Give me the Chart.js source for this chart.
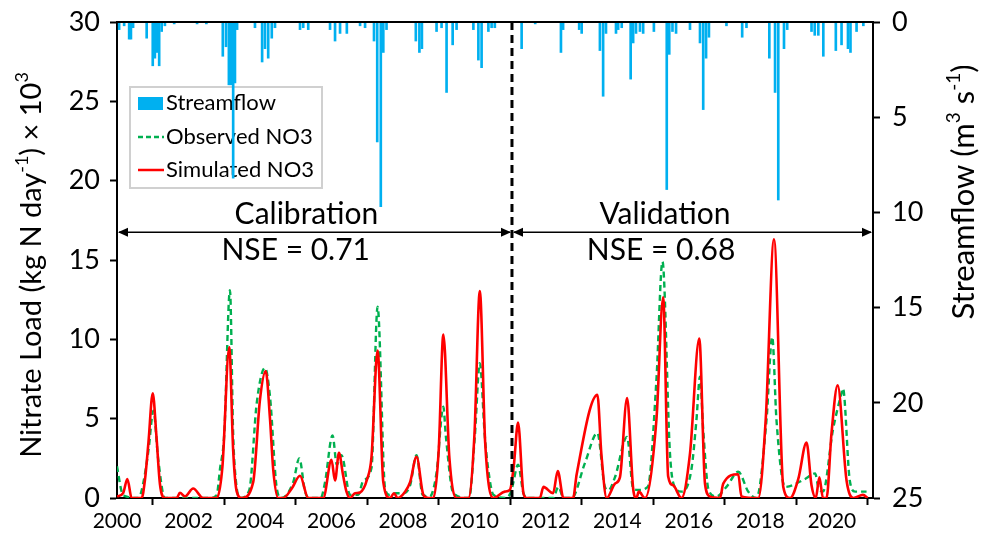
<!DOCTYPE html>
<html>
<head>
<meta charset="utf-8">
<script src="https://cdn.jsdelivr.net/npm/chart.js@4.4.0/dist/chart.umd.min.js"></script>
<style>
  html, body { margin: 0; padding: 0; background: #fff; }
  #wrap { width: 986px; height: 549px; }
</style>
</head>
<body>
<div id="wrap"><canvas id="chart" width="986" height="549"></canvas></div>
<script>
// Simulated NO3 load (kg N/day x 10^3)
const simYears = [2000.0, 2000.17, 2000.29, 2000.41, 2000.69, 2000.78, 2000.88, 2001.0, 2001.1, 2001.2,
  2001.34, 2001.67, 2001.76, 2001.9, 2002.13, 2002.41, 2002.79, 2002.95, 2003.14, 2003.25,
  2003.35, 2003.49, 2003.81, 2004.0, 2004.16, 2004.28, 2004.37, 2004.51, 2004.65, 2004.89,
  2005.12, 2005.35, 2005.77, 2006.0, 2006.1, 2006.21, 2006.32, 2006.42, 2006.52, 2006.66,
  2006.8, 2007.0, 2007.12, 2007.29, 2007.45, 2007.64, 2007.75, 2007.85, 2008.06, 2008.2,
  2008.38, 2008.57, 2008.71, 2008.85, 2009.0, 2009.13, 2009.3, 2009.5, 2009.83, 2010.0,
  2010.15, 2010.3, 2010.53, 2010.85, 2010.99, 2011.1, 2011.22, 2011.37, 2011.46, 2011.83,
  2011.93, 2012.2, 2012.33, 2012.49, 2012.76, 2012.86, 2013.44, 2013.55, 2013.7, 2013.93,
  2014.07, 2014.27, 2014.44, 2014.53, 2014.6, 2014.77, 2015.09, 2015.28, 2015.42, 2015.56,
  2015.79, 2016.03, 2016.29, 2016.45, 2016.59, 2016.87, 2016.96, 2017.38, 2017.47, 2017.94,
  2018.15, 2018.38, 2018.64, 2018.83, 2019.06, 2019.29, 2019.43, 2019.55, 2019.65, 2019.75,
  2019.85, 2019.99, 2020.16, 2020.41, 2020.6, 2020.87, 2021.0];
const simLoad = [0.1, 0.3, 1.2, 0.0, 0.0, 1.1, 3.5, 6.6, 4.0, 0.9,
  0.0, 0.0, 0.33, 0.1, 0.6, 0.0, 0.0, 2.0, 9.5, 3.0,
  0.4, 0.0, 1.0, 6.2, 8.0, 5.0, 1.8, 0.0, 0.0, 0.6,
  1.4, 0.0, 0.0, 2.4, 1.1, 2.85, 1.5, 0.4, 0.0, 0.3,
  0.35, 1.2, 2.6, 9.3, 1.0, 0.0, 0.3, 0.0, 0.4, 1.0,
  2.6, 0.2, 0.0, 0.0, 3.0, 10.3, 2.5, 0.0, 0.0, 4.0,
  13.05, 3.5, 0.0, 0.4, 0.5, 2.0, 4.75, 0.3, 0.0, 0.0,
  0.7, 0.3, 1.7, 0.0, 0.0, 1.5, 6.5, 2.8, 0.0, 0.9,
  1.3, 6.3, 0.6, 0.0, 0.4, 0.0, 4.9, 12.65, 1.35, 0.8,
  0.0, 2.8, 10.05, 0.9, 0.1, 0.0, 0.9, 1.5, 0.1, 0.0,
  5.0, 16.3, 0.7, 0.0, 1.2, 3.5, 0.8, 0.0, 1.3, 0.0,
  0.0, 4.1, 7.1, 1.1, 0.0, 0.2, 0.0];

// Observed NO3 load
const obsYears = [2000.0, 2000.13, 2000.25, 2000.6, 2000.74, 2000.88, 2001.02, 2001.15, 2001.34, 2002.6,
  2002.79, 2002.88, 2003.0, 2003.16, 2003.25, 2003.33, 2003.44, 2003.7, 2003.91, 2004.14,
  2004.28, 2004.47, 2004.6, 2004.93, 2005.1, 2005.26, 2005.4, 2005.7, 2005.82, 2006.03,
  2006.15, 2006.28, 2006.52, 2006.75, 2006.89, 2007.12, 2007.29, 2007.5, 2007.62, 2007.8,
  2008.0, 2008.2, 2008.38, 2008.55, 2008.75, 2008.94, 2009.13, 2009.2, 2009.41, 2009.85,
  2010.01, 2010.15, 2010.29, 2010.38, 2010.53, 2010.88, 2011.04, 2011.08, 2011.22, 2011.37,
  2011.5, 2012.2, 2012.35, 2012.49, 2012.72, 2013.09, 2013.44, 2013.65, 2013.75, 2013.93,
  2014.27, 2014.44, 2014.58, 2014.85, 2015.09, 2015.26, 2015.47, 2015.6, 2015.79, 2016.07,
  2016.21, 2016.31, 2016.4, 2016.55, 2016.77, 2017.05, 2017.38, 2017.66, 2017.89, 2018.17,
  2018.33, 2018.45, 2018.69, 2019.25, 2019.53, 2019.62, 2019.75, 2020.03, 2020.27, 2020.31,
  2020.5, 2020.65, 2020.97];
const obsLoad = [2.0, 0.4, 0.1, 0.0, 1.0, 3.0, 5.5, 2.5, 0.0, 0.0,
  0.2, 1.8, 4.0, 13.1, 4.0, 1.0, 0.0, 0.5, 6.0, 8.2,
  6.4, 0.6, 0.0, 1.0, 2.5, 0.4, 0.0, 0.0, 1.0, 3.95,
  2.1, 2.7, 0.2, 0.2, 1.1, 1.9, 12.05, 0.6, 0.2, 0.3,
  0.3, 0.8, 2.7, 0.2, 0.1, 1.6, 5.75, 3.9, 0.3, 0.0,
  3.85, 8.5, 3.9, 1.9, 0.2, 0.0, 0.5, 0.9, 2.1, 0.3,
  0.0, 0.0, 0.7, 0.0, 0.0, 2.2, 4.1, 0.7, 0.5, 1.3,
  3.85, 0.6, 0.5, 0.7, 7.4, 14.9, 2.8, 0.7, 0.4, 1.8,
  4.9, 7.65, 4.3, 0.5, 0.1, 0.7, 1.65, 0.4, 0.0, 4.9,
  10.15, 4.9, 0.7, 1.2, 1.55, 0.7, 0.4, 4.3, 6.6, 6.9,
  1.1, 0.4, 0.4];

// Streamflow (m3/s), hanging from the top on the reversed right axis
const flowYears = [2000.06, 2000.2, 2000.34, 2000.39, 2000.45, 2000.83, 2001.0, 2001.06, 2001.12, 2001.18,
  2001.25, 2001.34, 2001.6, 2002.24, 2002.5, 2002.96, 2003.05, 2003.13, 2003.19, 2003.25,
  2003.3, 2003.36, 2003.86, 2004.06, 2004.14, 2004.23, 2004.33, 2004.42, 2005.12, 2005.21,
  2005.35, 2005.96, 2006.1, 2006.24, 2006.43, 2006.8, 2006.94, 2007.19, 2007.28, 2007.38,
  2007.45, 2007.54, 2008.36, 2008.46, 2008.53, 2008.94, 2009.08, 2009.22, 2009.39, 2009.5,
  2009.97, 2010.11, 2010.2, 2010.39, 2010.48, 2010.57, 2011.32, 2011.7, 2012.42, 2012.48,
  2012.93, 2013.0, 2013.51, 2013.6, 2013.68, 2013.96, 2014.02, 2014.12, 2014.37, 2014.44,
  2014.52, 2014.63, 2014.72, 2015.02, 2015.38, 2015.45, 2015.54, 2015.64, 2016.03, 2016.31,
  2016.4, 2016.48, 2016.56, 2017.05, 2017.49, 2017.61, 2018.25, 2018.41, 2018.5, 2018.66,
  2018.75, 2019.43, 2019.52, 2019.62, 2019.76, 2020.11, 2020.27, 2020.45, 2020.52, 2020.69,
  2020.88];
const flowValues = [0.4, 0.2, 0.9, 0.9, 0.3, 0.85, 2.3, 1.9, 1.6, 2.3,
  0.5, 0.2, 0.1, 0.1, 0.1, 1.8, 1.3, 3.3, 3.3, 8.2,
  3.2, 0.4, 0.3, 2.1, 1.4, 1.9, 0.85, 0.3, 0.4, 0.3,
  0.4, 0.4, 1.0, 0.6, 0.6, 0.2, 0.3, 1.0, 6.3, 9.7,
  1.6, 0.4, 1.0, 1.6, 1.4, 0.5, 0.3, 3.7, 1.2, 0.4,
  0.4, 2.0, 2.4, 0.5, 0.3, 0.3, 1.4, 0.1, 1.6, 0.4,
  0.4, 0.6, 1.5, 3.9, 0.6, 0.6, 0.4, 0.3, 3.0, 1.1,
  0.6, 0.5, 0.6, 0.5, 8.8, 1.7, 0.5, 0.6, 0.4, 1.1,
  4.6, 1.9, 0.8, 0.2, 0.8, 0.3, 1.9, 3.7, 9.35, 1.4,
  0.4, 0.5, 0.7, 0.7, 1.8, 1.5, 1.2, 1.4, 1.6, 0.5,
  0.2];

const yearTicks = [2000, 2002, 2004, 2006, 2008, 2010, 2012, 2014, 2016, 2018, 2020];

const splitYear = 2011.05;
const periods = [
  { name: 'Calibration', nse: 'NSE = 0.71', from: 2000, to: splitYear, labelX: 2005.3, nseX: 2005.0 },
  { name: 'Validation', nse: 'NSE = 0.68', from: splitYear, to: 2021.15, labelX: 2015.33, nseX: 2015.22 }
];

const FONT = 'Lato, "Open Sans", sans-serif';
const BLUE = '#00b0f0', GREEN = '#00b050', RED = '#ff0000';

const toPoints = (xs, ys) => xs.map((x, i) => ({ x: x, y: ys[i] }));

// draws text made of normal + superscript pieces, rotated -90deg around (cx, cy)
const drawRotatedRich = (ctx, parts, cx, cy, size) => {
  ctx.save();
  ctx.translate(cx, cy);
  ctx.rotate(-Math.PI / 2);
  const small = Math.round(size * 0.62);
  let total = 0;
  parts.forEach(p => {
    ctx.font = `${p.sup ? small : size}px ${FONT}`;
    total += ctx.measureText(p.t).width;
  });
  let x = -total / 2;
  ctx.fillStyle = '#000';
  ctx.textBaseline = 'middle';
  ctx.textAlign = 'left';
  parts.forEach(p => {
    ctx.font = `${p.sup ? small : size}px ${FONT}`;
    ctx.fillText(p.t, x, p.sup ? -size * 0.33 : 0);
    x += ctx.measureText(p.t).width;
  });
  ctx.restore();
};

const arrowHead = (ctx, x, y, dir) => {
  ctx.beginPath();
  ctx.moveTo(x, y);
  ctx.lineTo(x - dir * 10, y - 4.5);
  ctx.lineTo(x - dir * 10, y + 4.5);
  ctx.closePath();
  ctx.fill();
};

const overlay = {
  id: 'overlay',
  beforeDatasetsDraw(chart) {
    const ctx = chart.ctx, a = chart.chartArea;
    // legend box
    const lx = a.left + 13, ly = a.top + 65, lw = 192, lh = 101;
    ctx.save();
    ctx.fillStyle = '#fff';
    ctx.fillRect(lx, ly, lw, lh);
    ctx.strokeStyle = '#d0d0d0';
    ctx.lineWidth = 2;
    ctx.strokeRect(lx, ly, lw, lh);
    ctx.font = `22px ${FONT}`;
    ctx.textBaseline = 'middle';
    const rows = [ly + 16, ly + 50, ly + 83];
    ctx.fillStyle = BLUE;
    ctx.fillRect(lx + 8, rows[0] - 6, 25, 13);
    ctx.lineWidth = 2.5;
    ctx.strokeStyle = GREEN;
    ctx.setLineDash([5, 3]);
    ctx.beginPath(); ctx.moveTo(lx + 8, rows[1]); ctx.lineTo(lx + 34, rows[1]); ctx.stroke();
    ctx.setLineDash([]);
    ctx.strokeStyle = RED;
    ctx.beginPath(); ctx.moveTo(lx + 8, rows[2]); ctx.lineTo(lx + 34, rows[2]); ctx.stroke();
    ctx.fillStyle = '#000';
    ctx.fillText('Streamflow', lx + 36, rows[0]);
    ctx.fillText('Observed NO3', lx + 36, rows[1]);
    ctx.fillText('Simulated NO3', lx + 36, rows[2]);
    ctx.restore();
  },
  afterDatasetsDraw(chart) {
    const ctx = chart.ctx, a = chart.chartArea;
    const xs = chart.scales.x, ys = chart.scales.y;
    ctx.save();
    // top frame line
    ctx.strokeStyle = '#000';
    ctx.lineWidth = 2;
    ctx.beginPath(); ctx.moveTo(a.left, a.top); ctx.lineTo(a.right, a.top); ctx.stroke();
    // split line
    const sx = xs.getPixelForValue(splitYear);
    ctx.lineWidth = 3;
    ctx.setLineDash([8, 5]);
    ctx.beginPath(); ctx.moveTo(sx, a.top); ctx.lineTo(sx, a.bottom); ctx.stroke();
    ctx.setLineDash([]);
    // period arrows and labels
    const ay = ys.getPixelForValue(16.75);
    ctx.fillStyle = '#000';
    ctx.lineWidth = 1.6;
    periods.forEach(p => {
      const x1 = xs.getPixelForValue(p.from), x2 = xs.getPixelForValue(p.to);
      ctx.beginPath(); ctx.moveTo(x1 + 2, ay); ctx.lineTo(x2 - 2, ay); ctx.stroke();
      arrowHead(ctx, x1 + 1, ay, -1);
      arrowHead(ctx, x2 - 1, ay, 1);
      ctx.font = `30px ${FONT}`;
      ctx.textAlign = 'center';
      ctx.textBaseline = 'middle';
      ctx.fillText(p.name, xs.getPixelForValue(p.labelX), ys.getPixelForValue(17.9));
      ctx.fillText(p.nse, xs.getPixelForValue(p.nseX), ys.getPixelForValue(15.6));
    });
    ctx.restore();
  },
  afterDraw(chart) {
    const ctx = chart.ctx;
    drawRotatedRich(ctx, [
      { t: 'Nitrate Load (kg N day' }, { t: '-1', sup: true }, { t: ') \u00d7 10' }, { t: '3', sup: true }
    ], 32, 265, 29);
    drawRotatedRich(ctx, [
      { t: 'Streamflow (m' }, { t: '3', sup: true }, { t: ' s' }, { t: '-1', sup: true }, { t: ')' }
    ], 964, 192, 31);
  }
};

const axisGrid = { display: true, drawOnChartArea: false, drawTicks: true, tickLength: 7, tickColor: '#000', tickWidth: 2 };
// keep Chart.js from pushing the plot area down for half-height tick labels
const fixVertical = w => s => { s.width = w; s.paddingTop = 0; s.paddingBottom = 0; };

new Chart(document.getElementById('chart'), {
  type: 'line',
  data: {
    datasets: [
      {
        type: 'line', label: 'Simulated NO3', data: toPoints(simYears, simLoad), yAxisID: 'y',
        borderColor: RED, borderWidth: 2.6, pointRadius: 0, cubicInterpolationMode: 'monotone', order: 1
      },
      {
        type: 'line', label: 'Observed NO3', data: toPoints(obsYears, obsLoad), yAxisID: 'y',
        borderColor: GREEN, borderWidth: 2.4, borderDash: [6, 4], pointRadius: 0,
        cubicInterpolationMode: 'monotone', order: 2
      },
      {
        type: 'bar', label: 'Streamflow', data: toPoints(flowYears, flowValues), yAxisID: 'y2',
        backgroundColor: BLUE, barThickness: 2, order: 3
      }
    ]
  },
  options: {
    responsive: false,
    animation: false,
    devicePixelRatio: 1,
    layout: { padding: { top: 22, left: 0, right: 0, bottom: 0 } },
    plugins: { legend: { display: false }, tooltip: { enabled: false } },
    scales: {
      x: {
        type: 'linear', min: 2000, max: 2021.15, offset: false,
        border: { color: '#000', width: 2 },
        grid: axisGrid,
        afterBuildTicks: s => { s.ticks = yearTicks.map(v => ({ value: v })); },
        afterFit: s => { s.height = 51; s.paddingLeft = 0; s.paddingRight = 0; },
        ticks: { color: '#000', font: { family: FONT, size: 21 }, padding: 4, maxRotation: 0, autoSkip: false, callback: v => String(v) }
      },
      y: {
        position: 'left', min: 0, max: 30,
        border: { color: '#000', width: 2 },
        grid: axisGrid,
        afterFit: fixVertical(117),
        ticks: { stepSize: 5, color: '#000', font: { family: FONT, size: 27 }, padding: 10 }
      },
      y2: {
        position: 'right', min: 0, max: 25, reverse: true,
        border: { color: '#000', width: 2 },
        grid: axisGrid,
        afterFit: fixVertical(113),
        ticks: { stepSize: 5, color: '#000', font: { family: FONT, size: 27 }, padding: 12 }
      }
    }
  },
  plugins: [overlay]
});
</script>
</body>
</html>
